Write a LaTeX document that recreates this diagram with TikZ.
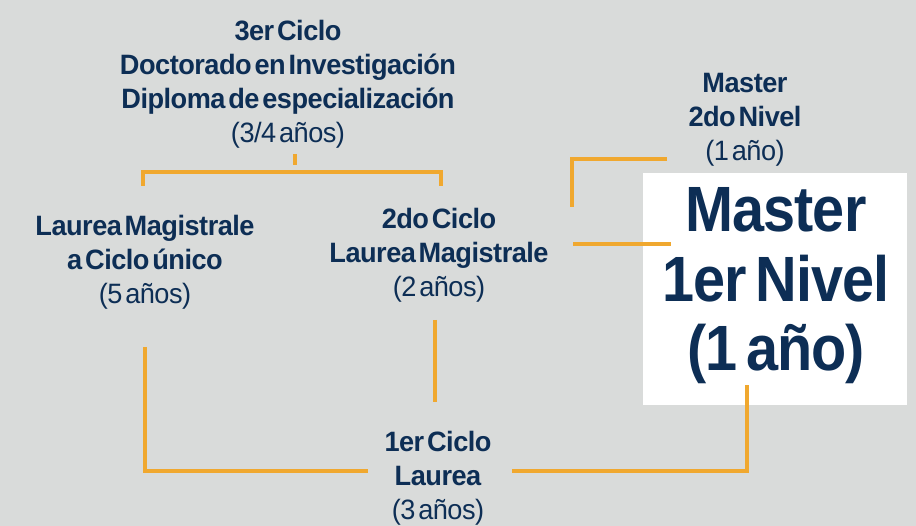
\documentclass[tikz,border=0pt]{standalone}
\usepackage{xcolor}
\usepackage{fontspec}
\setmainfont{Liberation Sans}[FakeStretch=0.9,LetterSpace=-1.5,WordSpace=0.6]
\newfontfamily\etapafont{Liberation Sans}[FakeStretch=0.97,LetterSpace=-1.8,WordSpace=0.4]
\usepackage{tikz}

\definecolor{fondo}{HTML}{D9DBDA}
\definecolor{azul}{HTML}{0D2E55}
\definecolor{oro}{HTML}{F0A82F}

\tikzset{
  etapa/.style={text=azul,align=center,inner sep=0pt,
    font=\etapafont\fontsize{28}{34}\selectfont\bfseries},
  grande/.style={text=azul,align=center,inner sep=0pt,
    font=\fontsize{64}{69.5}\selectfont\bfseries},
  enlace/.style={draw=oro,line width=4pt},
}

\begin{document}
\begin{tikzpicture}[x=1pt,y=-1pt]
            \fill[fondo] (0,0) rectangle (916,526);
            \useasboundingbox (0,0) rectangle (916,526);

            % caja blanca
            \fill[white] (643,173) rectangle (907,405);

            \node[etapa] (tercer) at (288,84) {3er Ciclo\\Doctorado en Investigación\\Diploma de especialización\\{\mdseries (3/4 años)}};
            \node[etapa] (unico) at (145,262) {Laurea Magistrale\\a Ciclo único\\{\mdseries (5 años)}};
            \node[etapa] (segundo) at (439,255) {2do Ciclo\\Laurea Magistrale\\{\mdseries (2 años)}};
            \node[etapa] (master2) at (745,120) {Master\\2do Nivel\\{\mdseries (1 año)}};
            \node[etapa] (primer) at (438,478) {1er Ciclo\\Laurea\\{\mdseries (3 años)}};
            \node[grande] (master1) at (776,286) {Master\\1er Nivel\\(1 año)};

            % extremos de los enlaces
            \coordinate (t1) at (295,154);
            \coordinate (t2) at (295,165);
            \coordinate (b1) at (143,186);
            \coordinate (b2) at (441,186);
            \coordinate (m1) at (572,207);
            \coordinate (m2) at (667,159);
            \coordinate (n1) at (573,244);
            \coordinate (n2) at (671,244);
            \coordinate (c1) at (435,320);
            \coordinate (c2) at (435,402);
            \coordinate (l1) at (145,347);
            \coordinate (l2) at (368,471);
            \coordinate (r1) at (512,471);
            \coordinate (r2) at (747,385);

            \draw[enlace] (t1) -- (t2);
            \draw[enlace] (b1) -- (143,172) -- (441,172) -- (b2);
            \draw[enlace] (m1) |- (m2);
            \draw[enlace] (n1) -- (n2);
            \draw[enlace] (c1) -- (c2);
            \draw[enlace] (l1) |- (l2);
            \draw[enlace] (r1) -| (r2);
          \end{tikzpicture}
\end{document}
